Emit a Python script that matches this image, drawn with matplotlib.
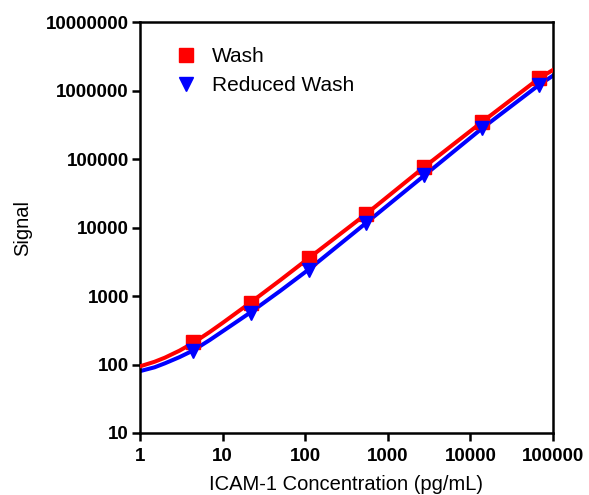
import numpy as np
import matplotlib
matplotlib.use('Agg')
import matplotlib.pyplot as plt
from matplotlib.ticker import FixedLocator, FixedFormatter

plt.rcParams['font.family'] = ['Liberation Sans', 'DejaVu Sans']

# Стандарты (5-кратные разведения)
conc = [4.39, 21.95, 109.8, 548.8, 2744, 13720, 68600]
wash_signal = [210, 790, 3550, 15800, 77000, 350000, 1540000]
reduced_signal = [160, 570, 2430, 11700, 58000, 280000, 1200000]

# Аппроксимирующие кривые
curve_x = [1, 1.5, 2, 3, 4.39, 7, 10, 21.95, 50, 109.8, 548.8, 2744, 13720, 68600, 100000]
wash_curve = [94, 109.6, 125.8, 159, 206, 299, 405, 808, 1707, 3551, 15800, 76000,
              345000, 1520000, 2000000]
reduced_curve = [80, 91, 104, 128, 160, 228, 305, 580, 1190, 2430, 11700, 57000,
                 278000, 1220000, 1650000]

x_ticks = [1, 10, 100, 1000, 10000, 100000]
y_ticks = [10, 100, 1000, 10000, 100000, 1000000, 10000000]

fig = plt.figure(figsize=(5.89, 4.95), dpi=100)
ax = fig.add_axes([0.2377, 0.1253, 0.701, 0.830])

ax.plot(curve_x, wash_curve, color='#ff0000', lw=2.9, zorder=3)
ax.plot(curve_x, reduced_curve, color='#0000ff', lw=2.9, zorder=2)
ax.plot(conc, wash_signal, 's', color='#ff0000', ms=9.5, zorder=4, label='Wash')
ax.plot(conc, reduced_signal, 'v', color='#0000ff', ms=9.5, zorder=4, label='Reduced Wash')

ax.set_xscale('log')
ax.set_yscale('log')
ax.set_xlim(1, 100000)
ax.set_ylim(10, 10000000)

ax.xaxis.set_major_locator(FixedLocator(x_ticks))
ax.xaxis.set_major_formatter(FixedFormatter([str(t) for t in x_ticks]))
ax.yaxis.set_major_locator(FixedLocator(y_ticks))
ax.yaxis.set_major_formatter(FixedFormatter([str(t) for t in y_ticks]))
ax.minorticks_off()

for s in ax.spines.values():
    s.set_linewidth(1.8)
ax.tick_params(axis='both', which='major', direction='out', length=6, width=1.8,
               labelsize=13.5, pad=2)
ax.tick_params(axis='x', pad=5)
for lbl in ax.get_xticklabels() + ax.get_yticklabels():
    lbl.set_fontweight('bold')

ax.set_xlabel('ICAM-1 Concentration (pg/mL)', fontsize=14.5, labelpad=7)
ax.set_ylabel('Signal', fontsize=14.5, labelpad=10)

ax.legend(loc='upper left', frameon=False, fontsize=15, handletextpad=0.25,
          borderaxespad=0.0, labelspacing=0.5, bbox_to_anchor=(0.04, 0.96))

fig.savefig('out.png', dpi=100)
